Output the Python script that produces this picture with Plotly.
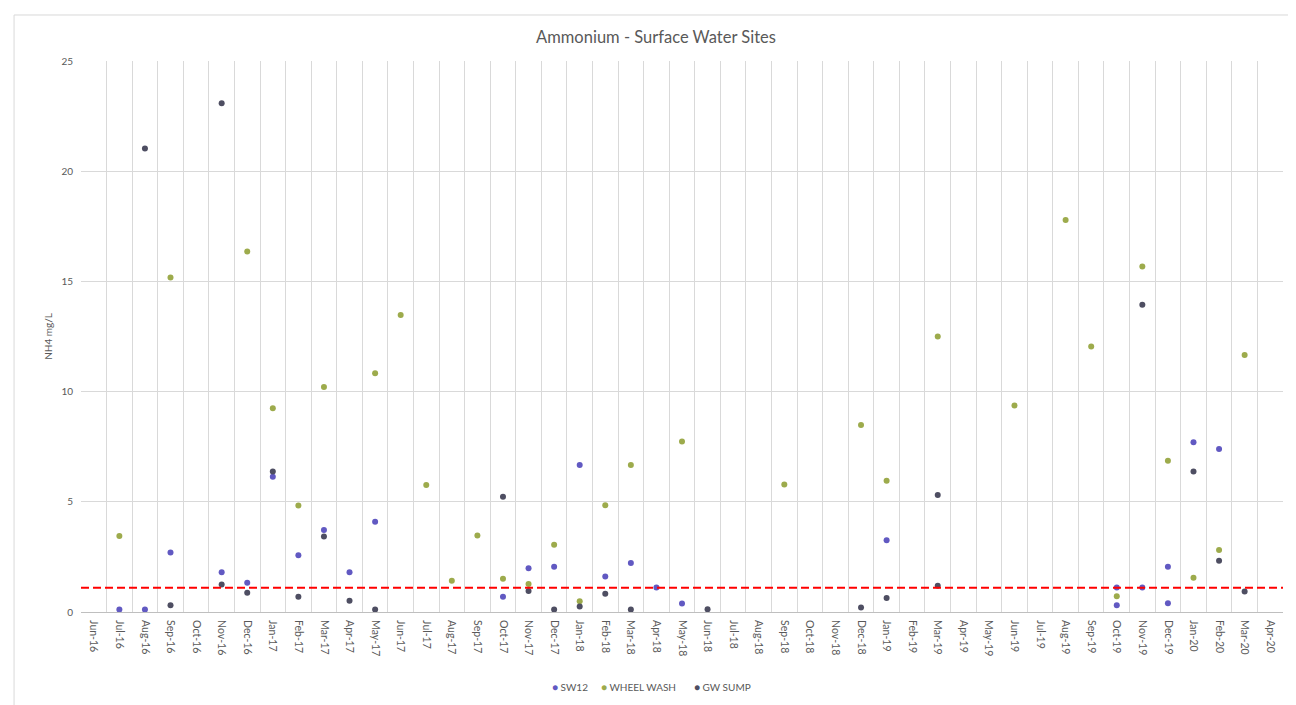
import plotly.graph_objects as go

MONTHS = ["Jun-16", "Jul-16", "Aug-16", "Sep-16", "Oct-16", "Nov-16", "Dec-16",
          "Jan-17", "Feb-17", "Mar-17", "Apr-17", "May-17", "Jun-17", "Jul-17",
          "Aug-17", "Sep-17", "Oct-17", "Nov-17", "Dec-17", "Jan-18", "Feb-18",
          "Mar-18", "Apr-18", "May-18", "Jun-18", "Jul-18", "Aug-18", "Sep-18",
          "Oct-18", "Nov-18", "Dec-18", "Jan-19", "Feb-19", "Mar-19", "Apr-19",
          "May-19", "Jun-19", "Jul-19", "Aug-19", "Sep-19", "Oct-19", "Nov-19",
          "Dec-19", "Jan-20", "Feb-20", "Mar-20", "Apr-20"]

SW12_X = ["Jul-16", "Aug-16", "Sep-16", "Nov-16", "Dec-16", "Jan-17", "Feb-17",
          "Mar-17", "Apr-17", "May-17", "Oct-17", "Nov-17", "Dec-17", "Jan-18",
          "Feb-18", "Mar-18", "Apr-18", "May-18", "Jan-19", "Oct-19", "Oct-19",
          "Nov-19", "Dec-19", "Dec-19", "Jan-20", "Feb-20"]
SW12_Y = [0.11, 0.11, 2.70, 1.80, 1.33, 6.14, 2.58,
          3.72, 1.80, 4.10, 0.69, 1.98, 2.05, 6.67,
          1.61, 2.22, 1.11, 0.39, 3.25, 1.11, 0.31,
          1.11, 2.05, 0.40, 7.70, 7.39]

WW_X = ["Jul-16", "Sep-16", "Dec-16", "Jan-17", "Feb-17", "Mar-17", "May-17",
        "Jun-17", "Jul-17", "Aug-17", "Sep-17", "Oct-17", "Nov-17", "Dec-17",
        "Jan-18", "Feb-18", "Mar-18", "May-18", "Sep-18", "Dec-18", "Jan-19",
        "Mar-19", "Jun-19", "Aug-19", "Sep-19", "Oct-19", "Nov-19", "Dec-19",
        "Jan-20", "Feb-20", "Mar-20"]
WW_Y = [3.45, 15.18, 16.36, 9.25, 4.83, 10.21, 10.83,
        13.48, 5.76, 1.42, 3.47, 1.51, 1.27, 3.05,
        0.49, 4.84, 6.67, 7.74, 5.78, 8.49, 5.95,
        12.50, 9.37, 17.79, 12.05, 0.72, 15.68, 6.86,
        1.55, 2.81, 11.66]

GW_X = ["Aug-16", "Sep-16", "Nov-16", "Nov-16", "Dec-16", "Jan-17", "Feb-17",
        "Mar-17", "Apr-17", "May-17", "Oct-17", "Nov-17", "Dec-17", "Jan-18",
        "Feb-18", "Mar-18", "Jun-18", "Dec-18", "Jan-19", "Mar-19", "Mar-19",
        "Nov-19", "Jan-20", "Feb-20", "Mar-20"]
GW_Y = [21.03, 0.31, 23.08, 1.25, 0.87, 6.37, 0.69,
        3.42, 0.51, 0.11, 5.23, 0.95, 0.11, 0.25,
        0.83, 0.11, 0.12, 0.20, 0.64, 5.31, 1.19,
        13.94, 6.37, 2.33, 0.93]

SERIES_NAMES = ["SW12", "WHEEL WASH", "GW SUMP"]
SERIES_COLORS = ["#6159c2", "#9dab4c", "#4e4e62"]

THRESHOLD = 1.1
Y_TICKS = [0, 5, 10, 15, 20, 25]

FONT = "Lato, 'Open Sans', sans-serif"
TXT = "#595959"
GRID = "#d9d9d9"

fig = go.Figure()
# ensure all month categories exist on the axis
fig.add_trace(go.Scatter(x=MONTHS, y=[None] * len(MONTHS), mode="markers",
                         showlegend=False, hoverinfo="skip"))
for name, color, xs, ys in zip(SERIES_NAMES, SERIES_COLORS,
                               [SW12_X, WW_X, GW_X], [SW12_Y, WW_Y, GW_Y]):
    fig.add_trace(go.Scatter(x=xs, y=ys, mode="markers", name=name,
                             marker=dict(size=6, color=color)))

fig.add_shape(type="line", xref="paper", x0=0, x1=1, yref="y",
              y0=THRESHOLD, y1=THRESHOLD,
              line=dict(color="#ff0000", width=2, dash="8px,4px"))
# chart border
fig.add_shape(type="rect", xref="paper", yref="paper",
              x0=-0.0557, x1=1.0108, y0=-0.1733, y1=1.0835,
              line=dict(color="#d9d9d9", width=1), layer="below")

# compact legend, Excel style (one entry per series)
LEGEND_POS = [0.3900, 0.4310, 0.5085]
for name, color, lx in zip(SERIES_NAMES, SERIES_COLORS, LEGEND_POS):
    fig.add_annotation(text=f"<span style='color:{color}'>●</span> {name}",
                       xref="paper", yref="paper", x=lx, y=-0.137,
                       xanchor="left", yanchor="middle", showarrow=False,
                       font=dict(family=FONT, size=10, color=TXT))

fig.update_layout(
    width=1296, height=705,
    margin=dict(l=73, r=21, t=53, b=101),
    paper_bgcolor="white", plot_bgcolor="white",
    font=dict(family=FONT, color=TXT, size=10),
    title=dict(text="Ammonium - Surface Water Sites", x=0.5, xanchor="center",
               y=1 - 29 / 705, yanchor="middle",
               font=dict(family=FONT, size=16.5, color=TXT)),
    showlegend=False,
    xaxis=dict(type="category", categoryorder="array", categoryarray=MONTHS,
               range=[-0.5, len(MONTHS) - 0.5], tickson="boundaries",
               showgrid=True, gridcolor=GRID, gridwidth=1,
               showline=True, linecolor="#bfbfbf", linewidth=1,
               ticks="", tickangle=90, tickfont=dict(size=10.5, color=TXT),
               ticklabelstandoff=5, zeroline=False),
    yaxis=dict(range=[0, 25], tickvals=Y_TICKS, showgrid=True, gridcolor=GRID,
               gridwidth=1, zeroline=False, showline=False, ticks="",
               tickfont=dict(size=10, color=TXT), ticklabelstandoff=7,
               title=dict(text="NH4 mg/L", font=dict(size=10, color=TXT),
                          standoff=6)),
)

fig.write_html("out.html")
